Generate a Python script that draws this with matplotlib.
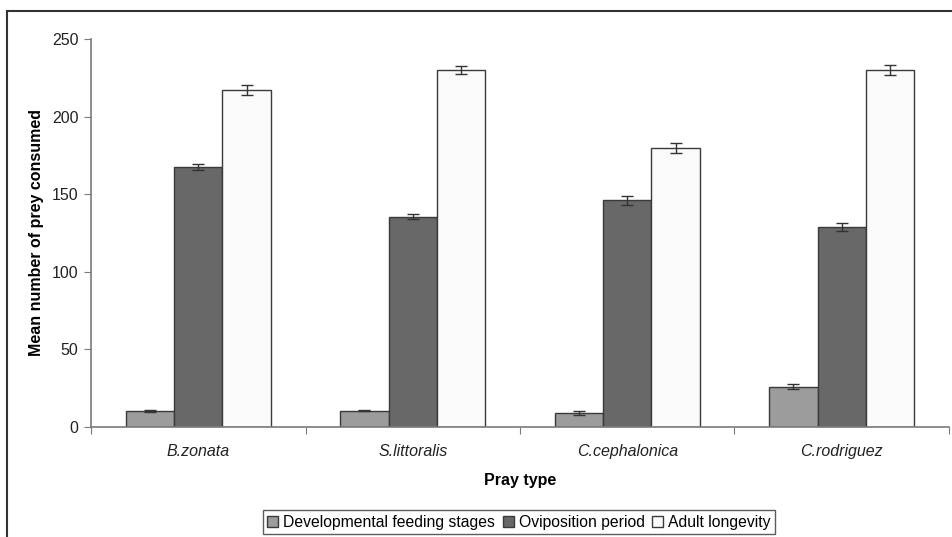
import numpy as np
import matplotlib
matplotlib.use("Agg")
import matplotlib.pyplot as plt
from matplotlib.lines import Line2D

plt.rcParams['font.family'] = ['Liberation Sans', 'DejaVu Sans']

# data
categories = ['B.zonata', 'S.littoralis', 'C.cephalonica', 'C.rodriguez']
series_names = ['Developmental feeding stages', 'Oviposition period', 'Adult longevity']
dev_feeding = [10.5, 10.5, 9.0, 26.0]
oviposition = [167.5, 135.5, 146.0, 129.0]
longevity = [217.0, 230.0, 180.0, 230.0]
dev_err = [0.6, 0.3, 1.0, 1.5]
ovi_err = [2.0, 1.6, 3.0, 2.5]
lon_err = [3.3, 2.3, 3.3, 3.3]

colors = ['#9c9c9c', '#686868', '#fafafa']
edge = '#3a3a3a'
axis_col = '#7a7a7a'
fs = 11.5

fig = plt.figure(figsize=(9.53, 5.37), dpi=100)
ax = fig.add_axes([91 / 953, 110 / 537, 858 / 953, 388 / 537])

x = np.arange(len(categories))
width = 0.225
values = [dev_feeding, oviposition, longevity]
errors = [dev_err, ovi_err, lon_err]
for i, (vals, errs) in enumerate(zip(values, errors)):
    pos = x + (i - 1) * width
    ax.bar(pos, vals, width, color=colors[i], edgecolor=edge, linewidth=1.0,
           label=series_names[i], zorder=2)
    ax.errorbar(pos, vals, yerr=errs, fmt='none', ecolor='#333333',
                elinewidth=1.0, capsize=4, capthick=1.0, zorder=3)

ax.set_xlim(-0.5, len(categories) - 0.5)
ax.set_ylim(0, 250)
ax.set_yticks([0, 50, 100, 150, 200, 250])
ax.set_xticks(np.arange(-0.5, len(categories), 1.0))
ax.set_xticklabels([])
ax.set_xticks(x, minor=True)
ax.set_xticklabels(categories, minor=True, style='italic', fontsize=fs)
ax.tick_params(axis='x', which='minor', length=0, pad=12, colors='#222222')
ax.tick_params(axis='x', which='major', length=5, direction='out', color=axis_col)
ax.tick_params(axis='y', length=5, direction='out', color=axis_col,
               labelsize=fs, labelcolor='#222222', pad=4)

for s in ['top', 'right']:
    ax.spines[s].set_visible(False)
for s in ['left', 'bottom']:
    ax.spines[s].set_color(axis_col)
    ax.spines[s].set_linewidth(1.2)

ax.set_ylabel('Mean number of prey consumed', fontsize=fs, fontweight='bold')
ax.yaxis.set_label_coords(-54 / 858, 0.5)
ax.set_xlabel('Pray type', fontsize=fs, fontweight='bold')
ax.xaxis.set_label_coords(0.5, -53 / 388)
ax.xaxis.label.set_verticalalignment('center')
ax.yaxis.label.set_verticalalignment('center')

leg = fig.legend(loc='center', bbox_to_anchor=(519 / 953, 1 - 522 / 537), ncol=3,
                 fontsize=11.3, frameon=True, fancybox=False, edgecolor='#333333',
                 handlelength=0.7, handleheight=0.7, handletextpad=0.3,
                 columnspacing=0.5, borderpad=0.3, borderaxespad=0)
leg.get_frame().set_linewidth(1.0)

# outer chart frame (only top and left edges visible)
fig.add_artist(Line2D([7 / 953, 7 / 953], [0, 1 - 11 / 537], transform=fig.transFigure,
                      color='#333333', linewidth=1.5))
fig.add_artist(Line2D([7 / 953, 1], [1 - 11 / 537, 1 - 11 / 537], transform=fig.transFigure,
                      color='#333333', linewidth=1.5))

fig.savefig('out.png', dpi=100)
